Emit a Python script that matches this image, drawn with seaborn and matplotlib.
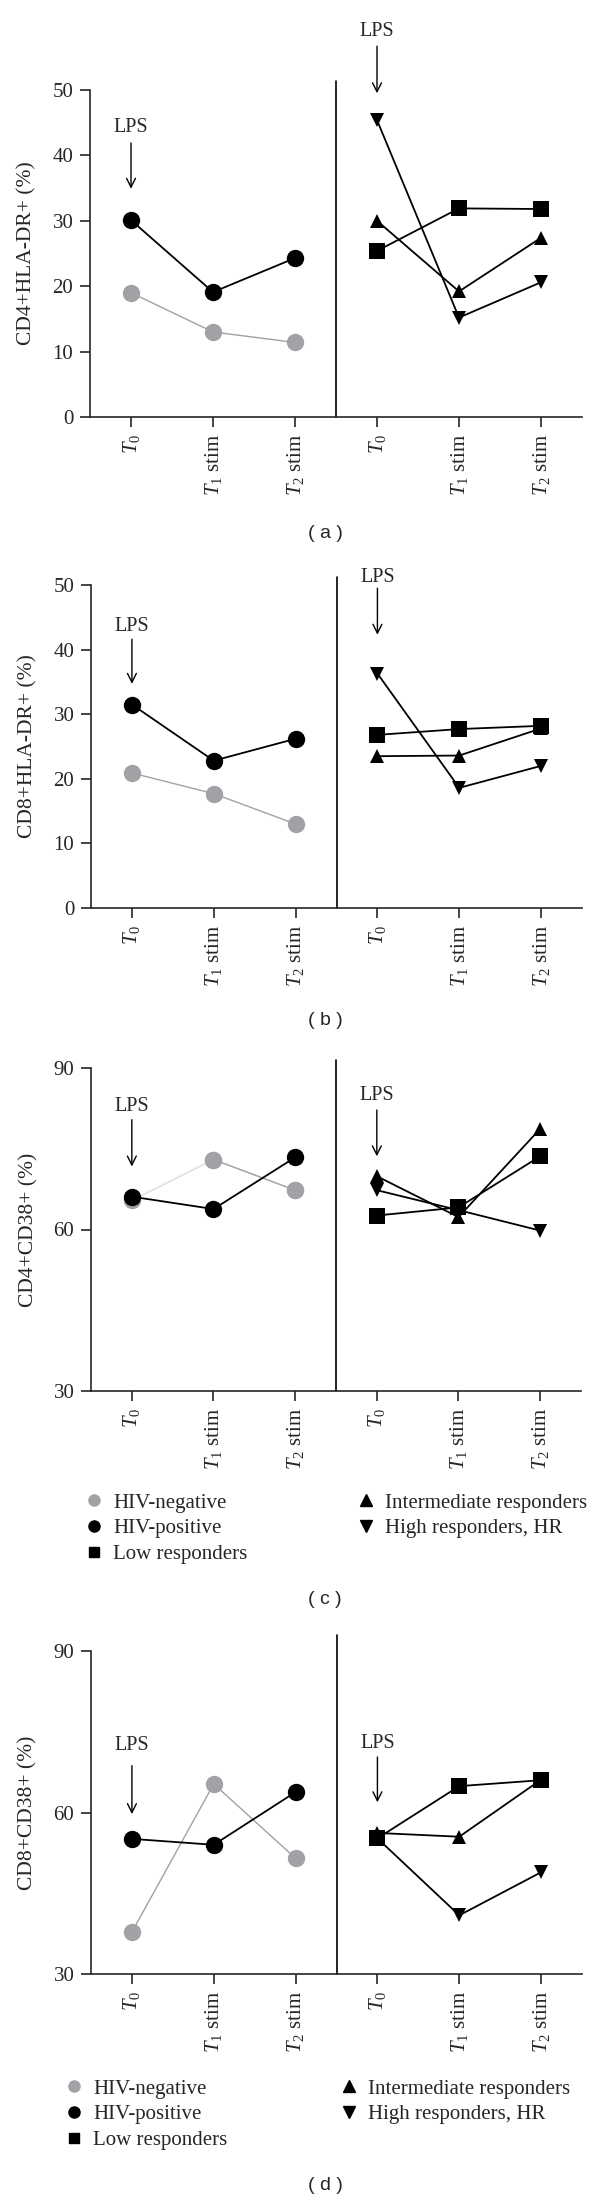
import numpy as np
import pandas as pd
import matplotlib
matplotlib.use('Agg')
import matplotlib.pyplot as plt
from matplotlib.lines import Line2D
import seaborn as sns

sns.set_style('ticks')
plt.rcParams['font.family'] = ['Liberation Serif', 'DejaVu Serif']
plt.rcParams['mathtext.fontset'] = 'custom'
plt.rcParams['mathtext.rm'] = 'Liberation Serif'
plt.rcParams['mathtext.it'] = 'Liberation Serif:italic'

time_labels = [r'$T_0$', r'$T_1$ stim', r'$T_2$ stim']

# (a) CD4+HLA-DR+
hiv_neg_a = [19.0, 13.0, 11.4]
hiv_pos_a = [30.1, 19.1, 24.3]
low_a = [25.4, 31.9, 31.8]
inter_a = [30.0, 19.2, 27.4]
high_a = [45.4, 15.2, 20.6]

# (b) CD8+HLA-DR+
hiv_neg_b = [20.9, 17.7, 13.0]
hiv_pos_b = [31.5, 22.8, 26.2]
low_b = [26.8, 27.7, 28.2]
inter_b = [23.5, 23.6, 27.8]
high_b = [36.3, 18.6, 22.0]

# (c) CD4+CD38+
hiv_neg_c = [65.4, 73.0, 67.3]
hiv_pos_c = [66.1, 63.8, 73.4]
low_c = [62.6, 64.1, 73.6]
inter_c = [69.9, 62.3, 78.7]
high_c = [67.3, 63.6, 59.8]

# (d) CD8+CD38+
hiv_neg_d = [37.8, 65.3, 51.5]
hiv_pos_d = [55.1, 54.0, 63.8]
low_d = [55.2, 64.9, 66.0]
inter_d = [56.2, 55.5, 66.1]
high_d = [55.2, 40.9, 48.9]

GRAY = '#a2a2a6'
W, H = 600, 2203

fig = plt.figure(figsize=(W / 100, H / 100), dpi=100)


def px_rect(left, top, right, bottom):
    return [left / W, 1 - bottom / H, (right - left) / W, (bottom - top) / H]


def draw_panel(rect, ylabel, ylim, yticks, neg, pos, low, inter, high,
               lps_left, lps_right, div_top, caption, cap_y, faint_first=False):
    ax = fig.add_axes(px_rect(*rect))
    left_x = [0, 1, 2]
    right_x = [3, 4, 5]
    neg_line = '#dcdcdc' if faint_first else GRAY
    series = [
        (left_x, neg, neg_line, GRAY, 'o', 12.5, 1.0),
        (left_x, pos, 'black', 'black', 'o', 12.5, 1.3),
        (right_x, low, 'black', 'black', 's', 12, 1.3),
        (right_x, inter, 'black', 'black', '^', 10.5, 1.3),
        (right_x, high, 'black', 'black', 'v', 10.5, 1.3),
    ]
    for xs, vals, lc, mc, m, ms, lw in series:
        df = pd.DataFrame({'pos': xs, 'val': vals})
        sns.lineplot(data=df, x='pos', y='val', ax=ax, color=lc, marker=m,
                     markersize=ms, markerfacecolor=mc, markeredgecolor=mc,
                     markeredgewidth=0, linewidth=lw)
        if faint_first and mc == GRAY:
            # second segment of the HIV-negative line is darker
            sns.lineplot(x=xs[1:], y=vals[1:], ax=ax, color=GRAY, marker=m,
                         markersize=ms, markeredgecolor=GRAY,
                         markeredgewidth=0, linewidth=lw)
    ax.set_xlim(-0.5, 5.5)
    ax.set_ylim(*ylim)
    ax.set_yticks(yticks)
    ax.set_xticks(range(6))
    ax.set_xticklabels(time_labels * 2, rotation=90, va='top', ha='center')
    ax.set_xlabel('')
    ax.set_ylabel(ylabel, fontsize=15.5)
    ax.yaxis.set_label_coords(-0.108, 0.5)
    sns.despine(ax=ax)
    for s in ['left', 'bottom']:
        ax.spines[s].set_linewidth(1.2)
    ax.tick_params(direction='out', length=7, width=1.2, labelsize=15, pad=5)
    ax.axvline(2.5, ymin=0, ymax=div_top, color='black', lw=1.2, clip_on=False)

    for x, (ty, y0, y1) in [(0, lps_left), (3, lps_right)]:
        ax.text(x, ty, 'LPS', ha='center', va='center', fontsize=14.5)
        ax.annotate('', xy=(x, y1), xytext=(x, y0),
                    arrowprops=dict(arrowstyle='->', color='black', lw=1,
                                    shrinkA=0, shrinkB=0, mutation_scale=16),
                    annotation_clip=False)
    fig.text(325 / W, 1 - cap_y / H, caption, ha='center', va='center',
             fontsize=14, family='Liberation Sans')
    return ax


draw_panel((90, 90, 582, 417), 'CD4+HLA-DR+ (%)', (0, 50), [0, 10, 20, 30, 40, 50],
           hiv_neg_a, hiv_pos_a, low_a, inter_a, high_a,
           (44.3, 41.9, 34.9), (59.0, 56.7, 49.5), 1.028, '( a )', 533)
draw_panel((91, 585, 582, 908), 'CD8+HLA-DR+ (%)', (0, 50), [0, 10, 20, 30, 40, 50],
           hiv_neg_b, hiv_pos_b, low_b, inter_b, high_b,
           (43.6, 41.6, 34.7), (51.1, 49.5, 42.3), 1.025, '( b )', 1020)
draw_panel((91, 1068, 581, 1391), 'CD4+CD38+ (%)', (30, 90), [30, 60, 90],
           hiv_neg_c, hiv_pos_c, low_c, inter_c, high_c,
           (82.8, 80.4, 71.7), (84.8, 82.2, 73.6), 1.025, '( c )', 1600,
           faint_first=True)
draw_panel((91, 1651, 582, 1974), 'CD8+CD38+ (%)', (30, 90), [30, 60, 90],
           hiv_neg_d, hiv_pos_d, low_d, inter_d, high_d,
           (72.4, 68.7, 59.7), (72.9, 70.3, 61.9), 1.05, '( d )', 2185)


def legend_handles():
    left = [Line2D([], [], ls='none', marker='o', color=GRAY, markersize=8, label='HIV-negative'),
            Line2D([], [], ls='none', marker='o', color='black', markersize=8, label='HIV-positive'),
            Line2D([], [], ls='none', marker='s', color='black', markersize=7.5, label='Low responders')]
    right = [Line2D([], [], ls='none', marker='^', color='black', markersize=8, label='Intermediate responders'),
             Line2D([], [], ls='none', marker='v', color='black', markersize=8, label='High responders, HR')]
    return left, right


def add_legends(lx, rx, top):
    left, right = legend_handles()
    for handles, x in [(left, lx), (right, rx)]:
        fig.legend(handles=handles, loc='upper left',
                   bbox_to_anchor=(x / W, 1 - top / H), frameon=False,
                   fontsize=15, handlelength=0.75, handletextpad=0.55,
                   labelspacing=0.3, borderpad=0, borderaxespad=0)


add_legends(86, 358, 1493)
add_legends(66, 341, 2079)

fig.savefig('out.png', dpi=100)
